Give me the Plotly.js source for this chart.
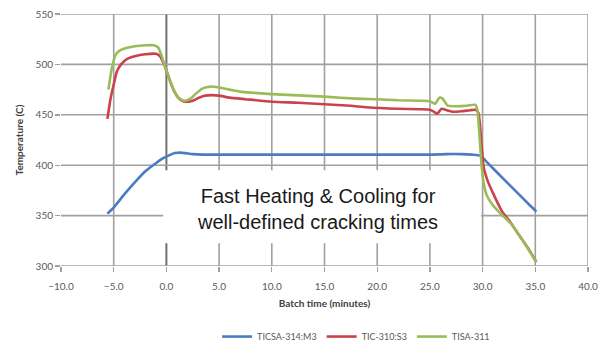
<!DOCTYPE html>
<html>
<head>
<meta charset="utf-8">
<script src="https://cdn.plot.ly/plotly-3.0.1.min.js"></script>
<style>
  html, body { margin: 0; padding: 0; background: #ffffff; }
  #chart { width: 599px; height: 344px; }
</style>
</head>
<body>
<div id="chart"></div>
<script>
// ---- Data ----
var seriesNames = ["TICSA-314:M3", "TIC-310:S3", "TISA-311"];

var blueTime = [-5.6, -5.0, -4.0, -3.0, -2.0, -1.0, -0.3, 0.3, 0.8, 1.3, 1.8, 2.5, 3.5, 5.0, 10.0, 15.0, 20.0, 25.0, 26.5, 28.0, 29.0, 29.8, 30.5, 31.5, 32.5, 33.5, 34.5, 35.1];
var blueTemp = [352, 358, 371, 383, 394, 402, 407, 410, 412, 412.5, 412, 411, 410.5, 410.5, 410.5, 410.5, 410.5, 410.5, 411, 411, 410.5, 409.5, 402, 391.5, 381, 370.5, 360, 354];

var redTime = [-5.6, -5.3, -5.0, -4.7, -4.3, -3.8, -3.0, -2.0, -1.0, -0.6, -0.3, 0.0, 0.4, 0.8, 1.2, 1.6, 2.0, 2.5, 3.0, 3.6, 4.3, 5.0, 6.0, 7.5, 10.0, 12.5, 15.0, 17.5, 19.0, 22.0, 24.0, 25.0, 25.4, 25.7, 26.1, 26.6, 27.2, 28.0, 28.8, 29.3, 29.6, 29.9, 30.1, 30.5, 31.0, 31.8, 32.6, 33.5, 34.3, 35.1];
var redTemp = [446, 466, 480, 493, 500, 505, 508, 510, 510.5, 508, 502, 494, 482, 472, 466, 463.5, 463, 464, 466.5, 469, 469.5, 469, 467, 465.5, 463, 462, 460.5, 459, 457.5, 456, 455.5, 455, 453, 451, 456, 454.5, 453, 453.5, 454.5, 455, 452, 420, 398, 384, 372, 355, 344, 330, 318, 304];

var greenTime = [-5.5, -5.2, -4.8, -4.4, -3.9, -3.0, -2.0, -1.2, -0.8, -0.5, -0.2, 0.2, 0.6, 1.0, 1.4, 1.8, 2.3, 2.8, 3.4, 4.2, 5.0, 6.0, 7.0, 8.0, 10.0, 12.0, 15.0, 18.0, 20.0, 22.0, 24.0, 25.0, 25.5, 25.9, 26.2, 26.7, 27.5, 28.5, 29.3, 29.5, 29.7, 29.9, 30.1, 30.4, 31.0, 31.7, 32.4, 33.0, 34.0, 35.1];
var greenTemp = [475, 495, 510, 514, 516, 518, 519, 519, 517, 510, 500, 488, 477, 469, 465, 464, 466, 471, 476, 478, 477, 475, 473, 472, 470.5, 469.5, 468, 466, 465.5, 464.5, 464, 463.5, 461, 467, 466, 459, 458.5, 459, 460, 455, 430, 400, 382, 370, 360, 352, 345, 338, 322, 304];

var xTickVals = [-10, -5, 0, 5, 10, 15, 20, 25, 30, 35, 40];
var yTickVals = [300, 350, 400, 450, 500, 550];

var xTitle = "Batch time (minutes)";
var yTitle = "Temperature (C)";
var noteText = "Fast Heating & Cooling for<br>well-defined cracking times";

// ---- Styles ----
var colors = ["#4a7dbf", "#c9434c", "#9bbb59"];

var traces = [
  {x: blueTime, y: blueTemp, name: seriesNames[0]},
  {x: redTime, y: redTemp, name: seriesNames[1]},
  {x: greenTime, y: greenTemp, name: seriesNames[2]}
].map(function (t, i) {
  t.type = "scatter";
  t.mode = "lines";
  t.line = {color: colors[i], width: 2.6, shape: "spline", smoothing: 0.5};
  t.hoverinfo = "skip";
  return t;
});

var tickFont = {family: "Lato, 'DejaVu Sans', sans-serif", size: 10, color: "#595959"};
var gridCol = "#a0a0a0";

// grid lines drawn as shapes from the tick values
var gridShapes = [];
xTickVals.forEach(function (v) {
  if (v === xTickVals[0]) return; // no line on the left edge in the reference
  gridShapes.push({type: "line", xref: "x", yref: "paper", x0: v, x1: v, y0: 0, y1: 1,
    line: {color: v === 0 ? "#707070" : gridCol, width: v === 0 ? 2 : 1.6}, layer: "below"});
});
yTickVals.forEach(function (v) {
  gridShapes.push({type: "line", xref: "paper", yref: "y", x0: 0, x1: 1, y0: v, y1: v,
    line: {color: gridCol, width: 1.6}, layer: "below"});
});

var layout = {
  width: 599,
  height: 344,
  margin: {l: 61, r: 11, t: 14, b: 78, autoexpand: false},
  paper_bgcolor: "#ffffff",
  plot_bgcolor: "#ffffff",
  showlegend: true,
  legend: {
    orientation: "h",
    x: 0.56, xanchor: "center",
    y: -0.28, yanchor: "middle",
    font: {family: "Lato, 'DejaVu Sans', sans-serif", size: 9, color: "#595959"},
    itemwidth: 30,
    tracegroupgap: 0
  },
  xaxis: {
    range: [-10, 40],
    tickvals: xTickVals,
    tickformat: ".1f",
    showgrid: false,
    zeroline: false,
    ticks: "outside",
    ticklen: 5,
    tickwidth: 1.4,
    tickcolor: gridCol,
    ticklabelstandoff: 6,
    showline: false,
    automargin: false,
    tickfont: tickFont,
    title: {text: xTitle, font: {family: "Lato, 'DejaVu Sans', sans-serif", size: 10, color: "#404040", weight: "bold"}, standoff: 8},
    fixedrange: true
  },
  yaxis: {
    range: [300, 550],
    tickvals: yTickVals,
    showgrid: false,
    zeroline: false,
    ticks: "outside",
    ticklen: 5,
    tickwidth: 1.4,
    tickcolor: gridCol,
    showline: false,
    automargin: false,
    tickfont: tickFont,
    title: {text: yTitle, font: {family: "Lato, 'DejaVu Sans', sans-serif", size: 10, color: "#404040", weight: "bold"}, standoff: 10},
    fixedrange: true
  },
  shapes: gridShapes.concat([{
    type: "rect",
    xref: "paper", yref: "paper",
    x0: 0.194, x1: 0.797,
    y0: 0.09, y1: 0.38,
    fillcolor: "#ffffff",
    line: {width: 0},
    layer: "above"
  }]),
  annotations: [{
    xref: "paper", yref: "paper",
    x: 0.486, y: 0.227,
    xanchor: "center", yanchor: "middle",
    text: noteText,
    showarrow: false,
    align: "center",
    font: {family: "'Liberation Sans', Arial, sans-serif", size: 20, color: "#1a1a1a"}
  }]
};

Plotly.newPlot("chart", traces, layout, {displayModeBar: false, staticPlot: true});
</script>
</body>
</html>
